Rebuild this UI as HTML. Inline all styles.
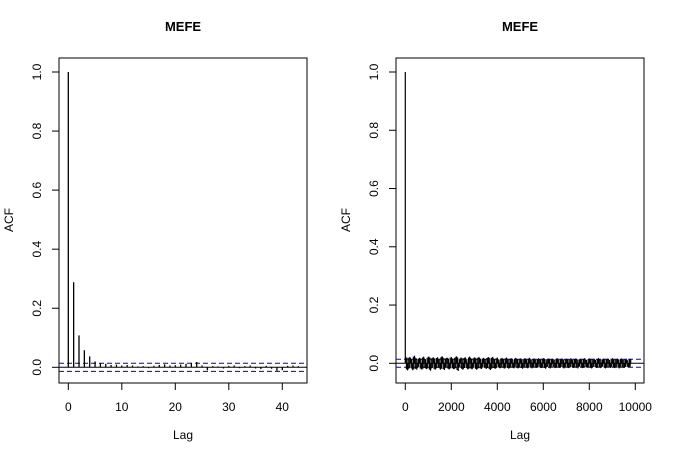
<!DOCTYPE html>
<html><head><meta charset="utf-8"><style>
body{margin:0;background:#fff}
svg{display:block;font-family:"Liberation Sans",Arial,sans-serif}
</style></head><body>
<svg id="c" width="675" height="457"></svg>
<script>
const leftLags=[0,1,2,3,4,5,6,7,8,9,10,11,12,13,14,15,16,17,18,19,20,21,22,23,24,25,26,27,28,29,30,31,32,33,34,35,36,37,38,39,40,41,42,43];
const leftAcf=[1.0,0.288,0.108,0.058,0.037,0.02,0.013,0.012,0.008,0.009,0.006,0.008,0.006,0.003,0.004,-0.003,0.005,0.008,0.01,0.006,0.007,0.009,0.012,0.015,0.018,0.006,-0.01,0.004,0.003,-0.004,0.005,0.006,-0.003,0.004,0.006,-0.004,-0.006,0.005,-0.005,-0.012,-0.01,0.005,0.006,0.004];
const rightAcfSample=[0.022,-0.02,0.018,-0.024,0.02,-0.016,0.019,-0.021,0.017,-0.02,0.023,-0.018,0.02,-0.019,0.016,-0.022,0.021,-0.017,0.019,-0.02,0.018,-0.02,0.024,-0.016,0.02,-0.019,0.017,-0.021,0.019,-0.018,0.02,-0.02,0.018,-0.017,0.016,-0.019,0.021,-0.02,0.017,-0.018,0.015,-0.017,0.016,-0.018,0.017,-0.016,0.015,-0.017,0.016,-0.015,0.017,-0.016,0.015,-0.017,0.016,-0.015,0.014,-0.016,0.015,-0.016,0.017,-0.015,0.016,-0.014,0.015,-0.016,0.014,-0.015,0.016,-0.014,0.015,-0.016,0.014,-0.015,0.016,-0.014,0.015,-0.016,0.014,-0.015,0.016,-0.015,0.014,-0.016,0.015,-0.014,0.016,-0.015,0.014,-0.016,0.015,-0.014,0.016,-0.015,0.014,-0.015,0.013,-0.014];
const ciLeft=0.0136, ciRight=0.0137;
const yTicks=[0,0.2,0.4,0.6,0.8,1.0];
const yTickLabels=["0.0","0.2","0.4","0.6","0.8","1.0"];
const leftXTicks=[0,10,20,30,40];
const rightXTicks=[0,2000,4000,6000,8000,10000];
const svg=document.getElementById('c');
const NS='http://www.w3.org/2000/svg';
function el(t,a,p){const e=document.createElementNS(NS,t);for(const k in a)e.setAttribute(k,a[k]);(p||svg).appendChild(e);return e;}
function panel(o){
  const g=el('g',{});
  
  
  const X=v=>o.x0+(v-o.xmin)*(o.x1-o.x0)/(o.xmax-o.xmin);
  const Y=v=>o.y0-v*(o.y0-o.y1);
  const box=el('rect',{x:o.bx0,y:58,width:o.bx1-o.bx0,height:383-58,fill:'none',stroke:'#000'},g);
  
  const t=el('text',{x:(o.bx0+o.bx1)/2,y:31,'text-anchor':'middle','font-size':13,'font-weight':'bold'},g);t.textContent='MEFE';
  
  yTicks.forEach((v,i)=>{el('line',{x1:o.bx0,x2:o.bx0-7,y1:Y(v),y2:Y(v),stroke:'#000'},g);
    const tx=el('text',{x:o.bx0-18,y:Y(v),'text-anchor':'middle','font-size':12,transform:`rotate(-90 ${o.bx0-18} ${Y(v)})`},g);tx.textContent=yTickLabels[i];
    });
  el('line',{x1:X(o.xt[0]),x2:X(o.xt[o.xt.length-1]),y1:383,y2:383,stroke:'#000'},g);
  o.xt.forEach(v=>{el('line',{x1:X(v),x2:X(v),y1:383,y2:390,stroke:'#000'},g);
    const tx=el('text',{x:X(v),y:411,'text-anchor':'middle','font-size':12},g);tx.textContent=v;
    });
  const yl=el('text',{x:o.bx0-46,y:220,'text-anchor':'middle','font-size':12,transform:`rotate(-90 ${o.bx0-46} 220)`},g);yl.textContent='ACF';
  
  const xl=el('text',{x:(o.bx0+o.bx1)/2,y:439,'text-anchor':'middle','font-size':12},g);xl.textContent='Lag';
  
  el('line',{x1:o.bx0,x2:o.bx1,y1:Y(0),y2:Y(0),stroke:'#000'},g);
  [o.ci,-o.ci].forEach(c=>{const l=el('line',{x1:o.bx0,x2:o.bx1,y1:Y(c),y2:Y(c),stroke:'#0000cc','stroke-dasharray':'5,3'},g);
    });
  o.lags.forEach((lag,i)=>{const l=el('line',{x1:X(lag),x2:X(lag),y1:Y(0),y2:Y(o.vals[i]),stroke:'#000','stroke-width':o.sw},g);
    });
}
panel({name:'left-acf-panel',bx0:59,bx1:307,x0:68.3,x1:282.3,xmin:0,xmax:40,y0:367.3,y1:72,xt:leftXTicks,ci:ciLeft,lags:leftLags,vals:leftAcf,sw:1.3});
const rLags=[0],rVals=[1.0];
rightAcfSample.forEach((v,i)=>{
  rLags.push(25+i*100);rVals.push(v);
  rLags.push(50+i*100);rVals.push(-v*0.95);
  rLags.push(75+i*100);rVals.push(v*0.85);
  rLags.push(100+i*100);rVals.push(-v*1.1);
});
panel({name:'right-acf-panel',bx0:396,bx1:644,x0:405.3,x1:635.3,xmin:0,xmax:10000,y0:363.3,y1:72,xt:rightXTicks,ci:ciRight,lags:rLags,vals:rVals,sw:1.2});
</script>
</body></html>
